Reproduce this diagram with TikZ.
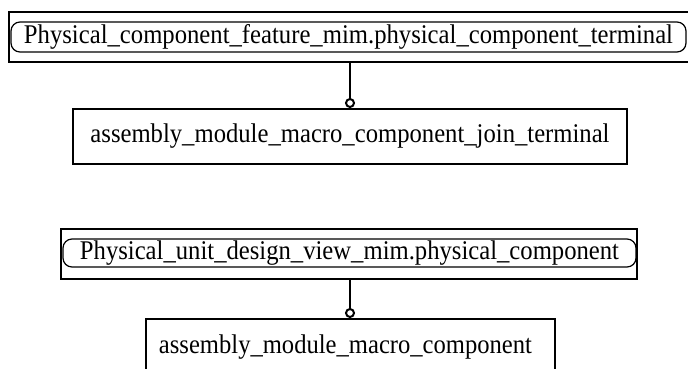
\documentclass[tikz,border=0pt]{standalone}
\usepackage{fontspec}
\setmainfont{Liberation Serif}
\usepackage{graphicx}
\newcommand{\fitto}[2]{\resizebox{#1}{\height}{#2}}
\begin{document}
\begin{tikzpicture}[x=1pt,y=-1pt,
  outerbox/.style={draw, line width=1.6pt, rectangle, inner sep=0pt},
  innerbox/.style={draw, line width=1.2pt, rounded corners=9pt, rectangle, inner sep=0pt, font=\fontsize{27}{30}\selectfont},
  plainbox/.style={draw, line width=1.6pt, rectangle, inner sep=0pt, font=\fontsize{27}{30}\selectfont},
  ring/.style={draw, line width=2pt, circle, inner sep=0pt, minimum size=8pt, fill=white},
  link/.style={line width=1.6pt}]
\useasboundingbox (0,0) rectangle (688,368);
\begin{scope}
\clip (0,0) rectangle (688,368);
% top group
\node[outerbox, minimum width=681pt, minimum height=50pt] (pcf) at (349.5,37) {};
\node[innerbox, minimum width=675pt, minimum height=30pt] (pcft) at (348.5,37) {\fitto{649pt}{Physical\_component\_feature\_mim.physical\_component\_terminal}};
\node[plainbox, minimum width=554pt, minimum height=55pt] (amj) at (350,136.5) {\fitto{519pt}{assembly\_module\_macro\_component\_join\_terminal}};
\node[ring] (r1) at (350,103) {};
\draw[link] (pcf.south -| r1) -- (r1.north);
% bottom group
\node[outerbox, minimum width=576pt, minimum height=50pt] (pud) at (349,254) {};
\node[innerbox, minimum width=573pt, minimum height=28pt] (pudt) at (349.5,253) {\fitto{539pt}{Physical\_unit\_design\_view\_mim.physical\_component}};
\node[plainbox, minimum width=409pt, minimum height=62pt] (amc) at (350.5,350) {};
\node[font=\fontsize{27}{30}\selectfont, inner sep=0pt] (amct) at (345.5,347) {\fitto{373pt}{assembly\_module\_macro\_component}};
\node[ring] (r2) at (350,313) {};
\draw[link] (pud.south -| r2) -- (r2.north);
\end{scope}
\end{tikzpicture}
\end{document}
